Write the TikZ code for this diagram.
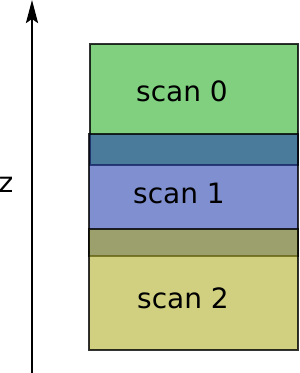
\documentclass[tikz,border=0pt]{standalone}
\usepackage{fontspec}
\setmainfont{DejaVu Sans}
\usetikzlibrary{arrows.meta}
\definecolor{gfill}{RGB}{36,174,36}
\definecolor{bfill}{RGB}{36,62,174}
\definecolor{yfill}{RGB}{174,174,36}
\tikzset{
  scanbox/.style={fill opacity=0.58, draw=black, draw opacity=0.8, line width=2.2pt},
  scanlabel/.style={font=\fontsize{28}{30}\selectfont, text=black, inner sep=0pt},
  axis/.style={line width=2.3pt, -{Stealth[length=23pt,width=12pt,inset=4pt]}}
}
\begin{document}
\begin{tikzpicture}[x=1pt,y=-1pt]
\useasboundingbox (0,0) rectangle (300,373);
\filldraw[scanbox, fill=gfill] (90,44) rectangle (298,165);
\filldraw[scanbox, fill=bfill] (89,134) rectangle (298,256);
\filldraw[scanbox, fill=yfill] (89,229) rectangle (298,350);
\node[scanlabel] (s0) at (182,91) {scan 0};
\node[scanlabel] (s1) at (179,193) {scan 1};
\node[scanlabel] (s2) at (183,298) {scan 2};
\coordinate (zb) at (32,373);
\coordinate (zt) at (32,0);
\draw[axis] (zb) -- (zt);
\node[scanlabel] (z) at (6,185) {z};
\end{tikzpicture}
\end{document}
